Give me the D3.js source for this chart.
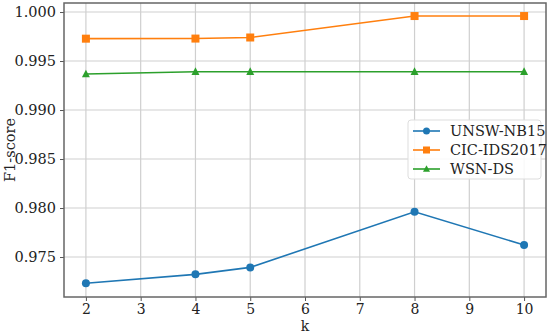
<!DOCTYPE html>
<html>
<head>
<meta charset="utf-8">
<script src="https://cdn.jsdelivr.net/npm/d3@7"></script>
<style>
  body { margin: 0; background: #fff; }
  text { font-family: "DejaVu Serif", serif; }
</style>
</head>
<body>
<div id="chart"></div>
<script>
// data
var kValues = [2, 4, 5, 8, 10];
var unswValues = [0.97232, 0.97323, 0.97394, 0.97962, 0.97622];
var cicValues = [0.99728, 0.99729, 0.99740, 0.99959, 0.99959];
var wsnValues = [0.99367, 0.99391, 0.99391, 0.99391, 0.99391];
var seriesNames = ['UNSW-NB15', 'CIC-IDS2017', 'WSN-DS'];
var xTicks = [2, 3, 4, 5, 6, 7, 8, 9, 10];
var yTicks = [0.975, 0.980, 0.985, 0.990, 0.995, 1.000];

const WIDTH = 550, HEIGHT = 333;
const margin = {left: 64, right: 4, top: 3, bottom: 36};

var series = [
  {name: seriesNames[0], values: unswValues, color: '#1f77b4', marker: 'circle'},
  {name: seriesNames[1], values: cicValues, color: '#ff7f0e', marker: 'square'},
  {name: seriesNames[2], values: wsnValues, color: '#2ca02c', marker: 'triangle'}
];

var svg = d3.select('#chart').append('svg')
            .attr('width', WIDTH)
            .attr('height', HEIGHT);

var x = d3.scaleLinear().domain([1.6, 10.4]).range([margin.left, WIDTH - margin.right]);
var y = d3.scaleLinear().domain([0.97092, 1.00092]).range([HEIGHT - margin.bottom, margin.top]);

// grid
svg.append('g').selectAll('line').data(xTicks).enter().append('line')
   .attr('x1', d => x(d)).attr('x2', d => x(d))
   .attr('y1', margin.top).attr('y2', HEIGHT - margin.bottom)
   .attr('stroke', '#cfcfcf').attr('stroke-width', 1.2);
svg.append('g').selectAll('line').data(yTicks).enter().append('line')
   .attr('x1', margin.left).attr('x2', WIDTH - margin.right)
   .attr('y1', d => y(d)).attr('y2', d => y(d))
   .attr('stroke', '#cfcfcf').attr('stroke-width', 1.2);

// axes
var xAxis = svg.append('g')
   .attr('transform', 'translate(0,' + (HEIGHT - margin.bottom) + ')')
   .call(d3.axisBottom(x).tickValues(xTicks).tickFormat(d3.format('d')).tickSize(4).tickPadding(3));
var yAxis = svg.append('g')
   .attr('transform', 'translate(' + margin.left + ',0)')
   .call(d3.axisLeft(y).tickValues(yTicks).tickFormat(d3.format('.3f')).tickSize(4).tickPadding(4));
[xAxis, yAxis].forEach(function (a) {
  a.select('.domain').remove();
  a.selectAll('line').attr('stroke', '#555');
  a.selectAll('text').attr('font-size', 14.5).attr('fill', '#222')
   .style('font-family', '"DejaVu Serif", serif');
});
xAxis.selectAll('text').attr('font-size', 14);

// frame
svg.append('rect')
   .attr('x', margin.left).attr('y', margin.top)
   .attr('width', WIDTH - margin.left - margin.right)
   .attr('height', HEIGHT - margin.top - margin.bottom)
   .attr('fill', 'none').attr('stroke', '#666').attr('stroke-width', 1.5);

// labels
svg.append('text')
   .attr('x', (margin.left + WIDTH - margin.right) / 2).attr('y', 331)
   .attr('text-anchor', 'middle').attr('font-size', 14).attr('fill', '#222')
   .text('k');
svg.append('text')
   .attr('transform', 'translate(15,' + ((margin.top + HEIGHT - margin.bottom) / 2) + ') rotate(-90)')
   .attr('text-anchor', 'middle').attr('font-size', 14.5).attr('fill', '#222')
   .text('F1-score');

function drawMarker(g, type, cx, cy, color, s) {
  if (type === 'circle') {
    g.append('circle').attr('cx', cx).attr('cy', cy).attr('r', s).attr('fill', color);
  } else if (type === 'square') {
    g.append('rect').attr('x', cx - s).attr('y', cy - s).attr('width', 2 * s).attr('height', 2 * s).attr('fill', color);
  } else {
    g.append('path').attr('d', 'M' + cx + ',' + (cy - s * 1.1) + 'L' + (cx + s) + ',' + (cy + s * 0.8) + 'L' + (cx - s) + ',' + (cy + s * 0.8) + 'Z')
     .attr('fill', color);
  }
}

var line = d3.line().x(d => x(d[0])).y(d => y(d[1]));
series.forEach(function (s) {
  var pts = kValues.map((k, i) => [k, s.values[i]]);
  var g = svg.append('g');
  g.append('path').attr('d', line(pts)).attr('fill', 'none')
   .attr('stroke', s.color).attr('stroke-width', 1.6);
  pts.forEach(p => drawMarker(g, s.marker, x(p[0]), y(p[1]), s.color, 4));
});

// legend
var lg = svg.append('g').attr('transform', 'translate(408,120)');
lg.append('rect').attr('width', 133).attr('height', 59).attr('rx', 3)
  .attr('fill', 'rgba(255,255,255,0.85)').attr('stroke', '#ddd');
series.forEach(function (s, i) {
  var yy = 11 + i * 19;
  lg.append('line').attr('x1', 5).attr('x2', 32).attr('y1', yy).attr('y2', yy)
    .attr('stroke', s.color).attr('stroke-width', 1.6);
  drawMarker(lg, s.marker, 18.5, yy, s.color, 3.5);
  lg.append('text').attr('x', 42).attr('y', yy + 5).attr('font-size', 14.5).attr('fill', '#222').text(s.name);
});
</script>
</body>
</html>
